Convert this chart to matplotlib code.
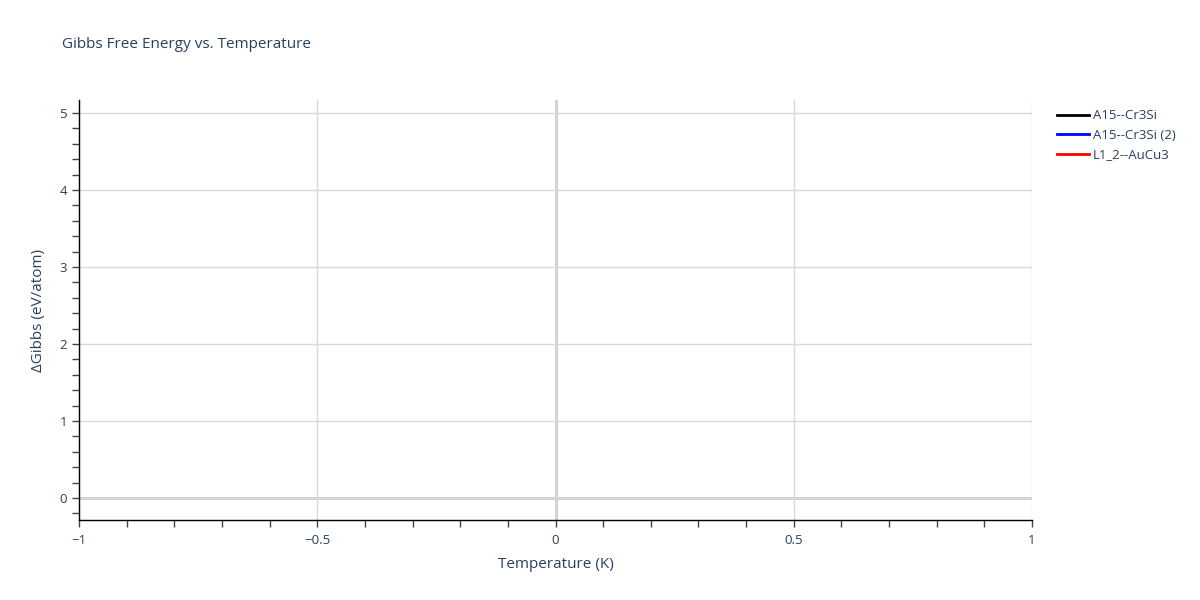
import matplotlib.pyplot as plt
from matplotlib.ticker import MultipleLocator

plt.rcParams["font.family"] = ["Open Sans", "DejaVu Sans"]

# Series as they appear in the reference: nothing is drawn inside the axes
temperature = []
series_names = ["A15--Cr3Si", "A15--Cr3Si (2)", "L1_2--AuCu3"]
series_values = [[], [], []]
series_colors = ["black", "blue", "red"]

TXT = "#2a3f5f"
GRID = "#d9d9d9"

fig = plt.figure(figsize=(12, 6), dpi=100)
ax = fig.add_axes([79 / 1200, 1 - 520 / 600, (1032 - 79) / 1200, (520 - 100) / 600])

for name, vals, col in zip(series_names, series_values, series_colors):
    ax.plot(temperature, vals, color=col, lw=2, label=name)

ax.set_xlim(-1, 1)
ax.set_ylim(-0.286, 5.17)

ax.xaxis.set_major_locator(MultipleLocator(0.5))
ax.xaxis.set_minor_locator(MultipleLocator(0.1))
ax.yaxis.set_major_locator(MultipleLocator(1))
ax.yaxis.set_minor_locator(MultipleLocator(0.2))
ax.xaxis.set_major_formatter(lambda v, p: f"{v:g}".replace("-", "\u2212"))
ax.yaxis.set_major_formatter(lambda v, p: f"{v:g}")

ax.grid(True, which="major", color=GRID, lw=1)
ax.axhline(0, color="#c8c8c8", lw=2, zorder=1)
ax.axvline(0, color="#c8c8c8", lw=2, zorder=1)

for s in ("top", "right"):
    ax.spines[s].set_visible(False)
for s in ("left", "bottom"):
    ax.spines[s].set_color("black")
    ax.spines[s].set_linewidth(1)

ax.tick_params(which="both", direction="out", length=5, width=1, color="#444444",
               labelcolor=TXT, labelsize=9.5)
ax.tick_params(axis="x", pad=5)

ax.set_xlabel("Temperature (K)", color=TXT, fontsize=11, labelpad=7)
ax.set_ylabel("ΔGibbs (eV/atom)", color=TXT, fontsize=11, labelpad=10)

fig.text(62 / 1200, 1 - 45 / 600, "Gibbs Free Energy vs. Temperature", color=TXT,
         fontsize=11, va="center", ha="left")

leg = ax.legend(loc="upper left", bbox_to_anchor=(1.017, 1.0), frameon=False,
                fontsize=9.5, handlelength=2.4, handletextpad=0.3, labelspacing=0.5,
                borderaxespad=0.3)
for t in leg.get_texts():
    t.set_color(TXT)

fig.savefig("out.png", dpi=100)
